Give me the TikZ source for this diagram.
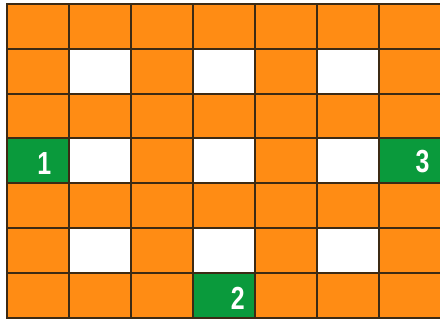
\documentclass[tikz,border=0pt]{standalone}
\usepackage{fontspec}
\setmainfont{Liberation Sans}
\usetikzlibrary{positioning}
\definecolor{cOr}{HTML}{FF8C14}
\definecolor{cGr}{HTML}{0A9A3C}
\definecolor{edge}{HTML}{3C2A14}
\tikzset{cell/.style={draw=edge,line width=1.3pt,line cap=rect},
  num/.style={text=white,font=\bfseries\fontsize{20.5}{20.5}\selectfont,inner sep=0pt}}
\newcommand{\digit}[1]{\scalebox{0.78}[1]{#1}}

\begin{document}
\begin{tikzpicture}[x=1.4cm,y=-1.011cm]
  \useasboundingbox (-0.113,-0.09) rectangle (6.98,7.11);
  % orange ground
  \fill[cOr] (0,0) rectangle (7.2,7);
  % white holes
  \foreach \c in {1,3,5} \foreach \r in {1,3,5} \fill[white] (\c,\r) rectangle ++(1,1);
  % green cells
  \fill[cGr] (0,3) rectangle ++(1,1) (6,3) rectangle ++(1,1) (3,6) rectangle ++(1,1);
  % grid lines
  \foreach \i in {0,...,6} \draw[cell] (\i,0) -- (\i,7);
  \foreach \j in {0,...,7} \draw[cell] (0,\j) -- (7.2,\j);
  % numbers
  \node[num] (n1) at (0.60,3.56) {\digit{1}};
  \node[num] (n2) at (3.72,6.57) {\digit{2}};
  \node[num] (n3) at (6.70,3.52) {\digit{3}};
\end{tikzpicture}
\end{document}
